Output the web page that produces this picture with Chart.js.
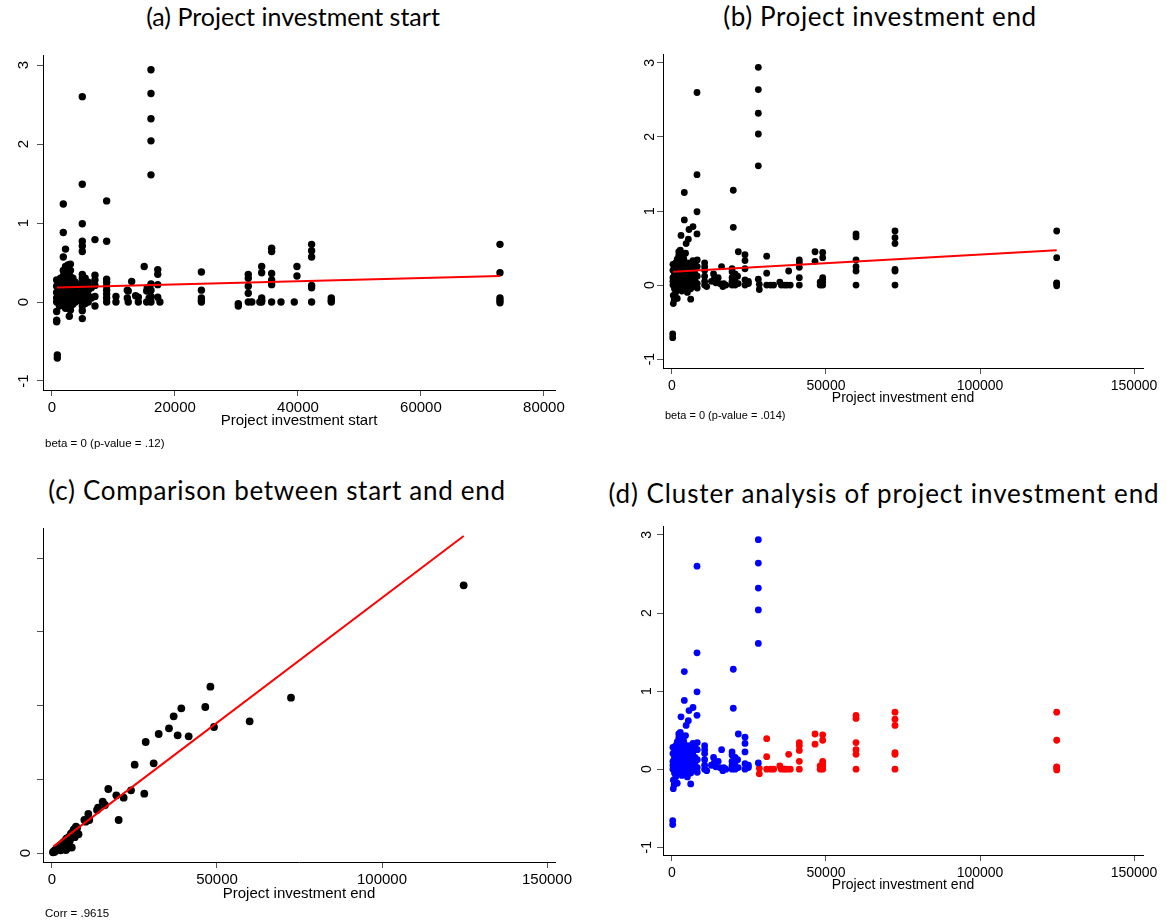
<!DOCTYPE html>
<html>
<head>
<meta charset="utf-8">
<script src="https://cdn.jsdelivr.net/npm/chart.js@4.4.1/dist/chart.umd.min.js"></script>
<style>
  body{margin:0;background:#fff;width:1167px;height:924px;position:relative;overflow:hidden;font-family:"Liberation Sans",Arial,sans-serif}
  canvas{position:absolute}
  .ttl{position:absolute;transform:translateX(-50%);font-family:Lato,"Open Sans",sans-serif;font-size:25px;line-height:30px;color:#000;white-space:nowrap}
  .note{position:absolute;line-height:14px;color:#000;white-space:nowrap}
</style>
</head>
<body>
<div class="ttl" style="left:293px;top:1px">(a) Project investment start</div>
<div class="ttl" style="left:880px;top:1px;font-size:26px;letter-spacing:0.6px">(b) Project investment end</div>
<div class="ttl" style="left:277px;top:475px;font-size:26px;letter-spacing:0.7px">(c) Comparison between start and end</div>
<div class="ttl" style="left:884px;top:478px;font-size:26px;letter-spacing:0.9px">(d) Cluster analysis of project investment end</div>

<canvas id="cA" width="583" height="400" style="left:0;top:40px"></canvas>
<canvas id="cB" width="584" height="370" style="left:583px;top:40px"></canvas>
<canvas id="cC" width="583" height="424" style="left:0;top:500px"></canvas>
<canvas id="cD" width="584" height="400" style="left:583px;top:500px"></canvas>

<div class="note" style="left:45px;top:436px;font-size:11.5px">beta = 0 (p-value = .12)</div>
<div class="note" style="left:665px;top:408px;font-size:11px">beta = 0 (p-value = .014)</div>
<div class="note" style="left:45px;top:906px;font-size:11.5px">Corr = .9615</div>

<script>
// ---- data ----
// (a) investment at start vs outcome
const START_PTS = [
  [16100,2.94],[16100,2.64],[16100,2.32],[16100,2.04],[16100,1.61],
  [4930,2.6],[4930,1.49],[4930,0.99],[4930,0.77],[4930,0.71],[4930,0.64],
  [1840,1.24],[1840,0.88],[2200,0.67],[1840,0.57],[6990,0.79],[8890,1.28],[8890,0.77],
  [760,0.28],[760,0.2],[760,0.12],[760,0.05],[760,0],[760,-0.12],[760,-0.23],[760,-0.25],
  [870,-0.67],[870,-0.71],
  [1000,0.25],[1100,0.15],[1100,0.08],[1200,0],[1200,-0.05],
  [1400,0.3],[1500,0.22],[1500,0.1],[1600,0.03],[1600,-0.02],
  [1840,0.4],[1840,0.33],[1840,0.25],[1840,0.18],[1840,0.1],[1840,0.02],[1840,-0.04],
  [2200,0.45],[2200,0.36],[2200,0.28],[2200,0.2],[2200,0.12],[2200,0.05],[2200,-0.02],[2200,-0.08],
  [2600,0.47],[2600,0.42],[2600,0.3],[2600,0.22],[2600,0.14],[2600,0.07],[2600,0],
  [2820,-0.18],
  [3000,0.48],[3000,0.4],[3000,0.32],[3000,0.24],[3000,0.15],[3000,0.08],[3000,-0.05],[3000,-0.1],
  [3400,0.3],[3400,0.2],[3400,0.12],[3400,0.04],[3400,-0.03],
  [3800,0.25],[3800,0.15],[3800,0.05],[3800,0],
  [4200,0.2],[4200,0.1],[4200,0.02],
  [4930,0.35],[4930,0.3],[4930,0.24],[4930,0.18],[4930,0.12],[4930,0.06],[4930,0],[4930,-0.05],[4930,-0.11],[4930,-0.21],
  [5400,0.3],[5400,0.2],[5400,0.12],[5400,0.05],[5400,-0.02],
  [5900,0.25],[5900,0.15],[5900,0.08],[5900,0],
  [6400,0.18],[6400,0.05],
  [6990,0.34],[6990,0.28],[6990,0.21],[6990,0.07],[6990,-0.05],
  [8890,0.29],[8890,0.25],[8890,0.2],[8890,0.15],[8890,0.1],[8890,0.05],[8890,0],
  [10400,0.07],[10400,0],[12250,0.15],[12250,0.05],[12960,0.26],[12400,0.14],[12400,0],
  [13600,0.08],[14040,0],[14040,0.06],[15000,0.45],[15400,0.14],[15500,0.18],[15400,0],[15800,0.05],
  [16100,0.23],[16100,0.15],[16100,0.07],[16100,0],
  [17200,0.41],[17200,0.35],[17200,0.22],[17200,0.06],[17550,0],
  [24300,0.38],[24300,0.15],[24300,0.05],[24300,0.02],[24300,0],
  [30300,-0.02],[30300,-0.05],
  [31920,0.35],[31920,0.3],[31920,0.2],[31920,0.11],[31920,0],[32500,0],
  [34100,0.45],[34100,0.37],[34100,0.05],[34100,0.02],[34100,0],[33800,0],
  [35720,0.68],[35720,0.64],[35720,0.36],[35720,0.28],[35720,0.22],[35720,0],
  [37240,0],[39400,0],[39840,0.45],[39840,0.33],
  [42220,0.73],[42220,0.65],[42220,0.57],[42220,0.21],[42220,0.18],[42220,0],
  [45420,0.05],[45420,0.02],[45420,0],
  [72850,0.73],[72850,0.37],[72850,0.05],[72850,0.02],[72850,-0.01]
];
// (b)/(d) investment at end vs outcome, split by cluster
const END_BLUE = [
  [28030,2.94],[28030,2.64],[28030,2.32],[28030,2.04],[28030,1.61],[28030,0.08],
  [8120,2.6],[8120,1.49],[8120,0.99],[8120,0.69],
  [4000,1.25],[4000,0.88],[2920,0.67],[5300,0.62],[5520,0.75],[6820,0.79],[4580,0.56],
  [19900,1.28],[19900,0.78],[21530,0.45],[23700,0.41],[23700,0.33],[23700,0.22],[23700,0.07],[23700,0],
  [24800,0.05],[24800,0.02],[16100,0.25],
  [230,-0.66],[230,-0.71],[420,-0.14],[420,-0.25],[700,-0.2],
  [300,0.28],[300,0.2],[300,0.1],[300,0.05],[300,0],
  [800,0.25],[800,0.15],[800,0.05],[800,-0.05],
  [1200,0.3],[1200,0.2],[1200,0.12],[1200,0.02],[1200,-0.1],
  [1700,0.35],[1700,0.25],[1700,0.15],[1700,0.08],[1700,-0.02],[1700,-0.18],
  [2200,0.45],[2200,0.4],[2200,0.3],[2200,0.22],[2200,0.12],[2200,0.05],[2200,-0.05],
  [2700,0.47],[2700,0.38],[2700,0.28],[2700,0.18],[2700,0.1],[2700,0.02],
  [3200,0.43],[3200,0.33],[3200,0.25],[3200,0.15],[3200,0.05],[3200,-0.08],
  [3800,0.36],[3800,0.3],[3800,0.2],[3800,0.1],[3800,0],
  [4400,0.43],[4400,0.25],[4400,0.15],[4400,0.05],[4400,-0.05],
  [5000,0.3],[5000,0.2],[5000,0.1],[5000,0],[5000,-0.1],
  [5500,0.25],[5500,0.12],[5500,0.03],
  [6070,-0.19],[6070,0.3],[6070,0.18],[6070,0.08],[6070,-0.05],
  [6800,0.33],[6800,0.22],[6800,0.1],[6800,0],
  [7500,0.28],[7500,0.15],[7500,0.05],
  [8200,0.34],[8200,0.25],[8200,0.12],[8200,0.02],[8200,-0.04],
  [10600,0.3],[10600,0.25],[10600,0.2],[10600,0.12],[10600,0.05],[10600,0],[11270,-0.02],
  [12800,0.05],[13500,0.15],[13700,0.08],[14200,0.03],[15000,0.1],[15500,0.02],[16500,-0.02],[16800,0.02],[17500,0],
  [19500,0.22],[19500,0.18],[19500,0.1],[19500,0.05],[19500,0],[20500,0.15],[20500,0.05],[20500,0],[21300,0.12],[21500,0.02]
];
const END_RED = [
  [28350,0.01],[28350,-0.06],
  [30750,0.39],[30750,0.16],[30750,0],[32000,0],[33000,0],
  [35000,0.04],[35500,0],[36500,0],[37300,0],[38400,0],[37880,0.19],
  [41340,0.34],[41340,0.3],[41340,0.24],[41340,0.1],[41340,0],
  [46430,0.45],[46430,0.32],
  [48930,0.44],[48930,0.37],[48930,0.1],[48930,0.07],[48930,0.04],[48930,0],[48100,0.04],[48100,0],
  [59750,0.69],[59750,0.65],[59750,0.34],[59750,0.25],[59750,0.19],[59750,0],
  [72400,0.73],[72400,0.64],[72400,0.56],[72400,0.21],[72400,0.19],[72400,0],
  [124900,0.73],[124900,0.37],[124900,0.03],[124900,0.02],[124900,-0.01]
];
// (c) end investment (x) vs start investment (y)
const CMP_PTS = [
  [124750,72650],[72420,42150],[59900,35740],[49090,34200],[48000,45140],[46450,39620],
  [39180,39270],[36870,37100],[35450,33840],[32330,32300],[38080,31940],[41410,31670],
  [28390,30130],[25050,23970],[30810,24330],[27970,16100],[23940,17000],[17060,17370],
  [19490,15660],[21710,15020],[20200,8960],[15360,13920],[16060,13030],[13960,12300],
  [13650,11700],[11000,10580],[11300,8960],[9800,9000],[10200,8500],
  [7270,7140],[6670,6410],[8030,5090],[5760,5250],[5150,4340],[5450,3430],[5000,1620],
  [4490,1160],[3690,2980],[3390,1620],[2600,720],[2160,1160],
  [300,200],[500,400],[700,300],[900,800],[1100,600],[1300,1000],[1500,1200],[1700,900],
  [1900,1500],[2100,1700],[2300,1200],[2500,2000],[2800,2300],[3000,1800],[3200,2700],
  [3600,3000],[3800,2200],[4000,3300],[4200,800],[4300,3800],[4700,4000],[5200,3000],
  [5800,5200],[6000,1500],[6300,5800],[6700,6400],[7600,6800],[6900,4300]
];
// fitted lines (end points)
const FIT_A = [[800,0.185],[72850,0.33]];
const FIT_B = [[420,0.18],[124900,0.47]];
const FIT_C = [[400,1720],[124750,86030]];
// ticks
const A_XTICKS = [0,20000,40000,60000,80000];
const END_XTICKS = [0,50000,100000,150000];
const Y_TICKS = [-1,0,1,2,3];
const C_YTICKS = [0,20000,40000,60000,80000];

const FONT = '"Liberation Sans", Arial, sans-serif';
const xy = a => a.map(([x,y]) => ({x,y}));

function panel(id, o){
  const sets = [{
    data: xy(o.fit), showLine:true, borderColor:'#ff0000', borderWidth:2,
    pointRadius:0, order:0
  }];
  o.series.forEach(s => sets.push({
    data: xy(s.pts), backgroundColor:s.color, borderWidth:0,
    pointRadius:o.r, pointHoverRadius:o.r, order:1
  }));
  return new Chart(document.getElementById(id), {
    type:'scatter',
    data:{datasets:sets},
    options:{
      responsive:false, animation:false, events:[],
      layout:{padding:o.pad},
      plugins:{legend:{display:false}, tooltip:{enabled:false}},
      scales:{
        x:{
          type:'linear', position:'bottom', min:o.xr[0], max:o.xr[1],
          afterBuildTicks:s => { s.ticks = o.xt.map(v => ({value:v})); },
          afterFit:s => { s.height = o.xh; },
          border:{color:'#000', width:1},
          grid:{drawOnChartArea:false, tickLength:6, color:'#555'},
          ticks:{font:{size:o.fs, family:FONT}, color:'#000', padding:o.xtp, maxRotation:0, autoSkip:false, callback:v => String(v)},
          title:{display:true, text:o.xTitle, font:{size:o.fs, family:FONT}, color:'#000', padding:0}
        },
        y:{
          type:'linear', min:o.yr[0], max:o.yr[1],
          afterBuildTicks:s => { s.ticks = o.yt.map(v => ({value:v})); },
          afterFit:s => { s.width = o.yw; },
          border:{color:'#000', width:1},
          grid:{drawOnChartArea:false, tickLength:6, color:'#555'},
          ticks:{font:{size:o.fs, family:FONT}, color:'#000', padding:o.ytp, minRotation:90, maxRotation:90,
                 crossAlign:'center', autoSkip:false, callback:o.ylab || (v => String(v))}
        }
      }
    }
  });
}

panel('cA', {
  series:[{pts:START_PTS, color:'#000'}], fit:FIT_A, r:3.7,
  xr:[-1460,81800], yr:[-1.114,3.127], xt:A_XTICKS, yt:Y_TICKS,
  xTitle:'Project investment start', fs:15, yw:43, xh:40, xtp:3, ytp:6,
  pad:{left:0, top:15, right:28, bottom:10}
});
panel('cB', {
  series:[{pts:END_BLUE.concat(END_RED), color:'#000'}], fit:FIT_B, r:3.4,
  xr:[-2922,152922], yr:[-1.12,3.12], xt:END_XTICKS, yt:Y_TICKS,
  xTitle:'Project investment end', fs:14, yw:80, xh:38.4, xtp:4, ytp:1,
  pad:{left:0, top:14, right:24, bottom:3.6}
});
panel('cC', {
  series:[{pts:CMP_PTS, color:'#000'}], fit:FIT_C, r:3.9,
  xr:[-2727,152424], yr:[-2440,88200], xt:END_XTICKS, yt:C_YTICKS,
  ylab:v => v === 0 ? '0' : '',
  xTitle:'Project investment end', fs:15, yw:43, xh:41, xtp:3, ytp:7,
  pad:{left:0, top:28, right:28, bottom:21}
});
panel('cD', {
  series:[{pts:END_BLUE, color:'#0000ff'}, {pts:END_RED, color:'#ff0000'}], fit:[], r:3.4,
  xr:[-2922,152922], yr:[-1.10,3.115], xt:END_XTICKS, yt:Y_TICKS,
  xTitle:'Project investment end', fs:14, yw:80, xh:38.4, xtp:4, ytp:4,
  pad:{left:0, top:26, right:24, bottom:6.6}
});
</script>
</body>
</html>
